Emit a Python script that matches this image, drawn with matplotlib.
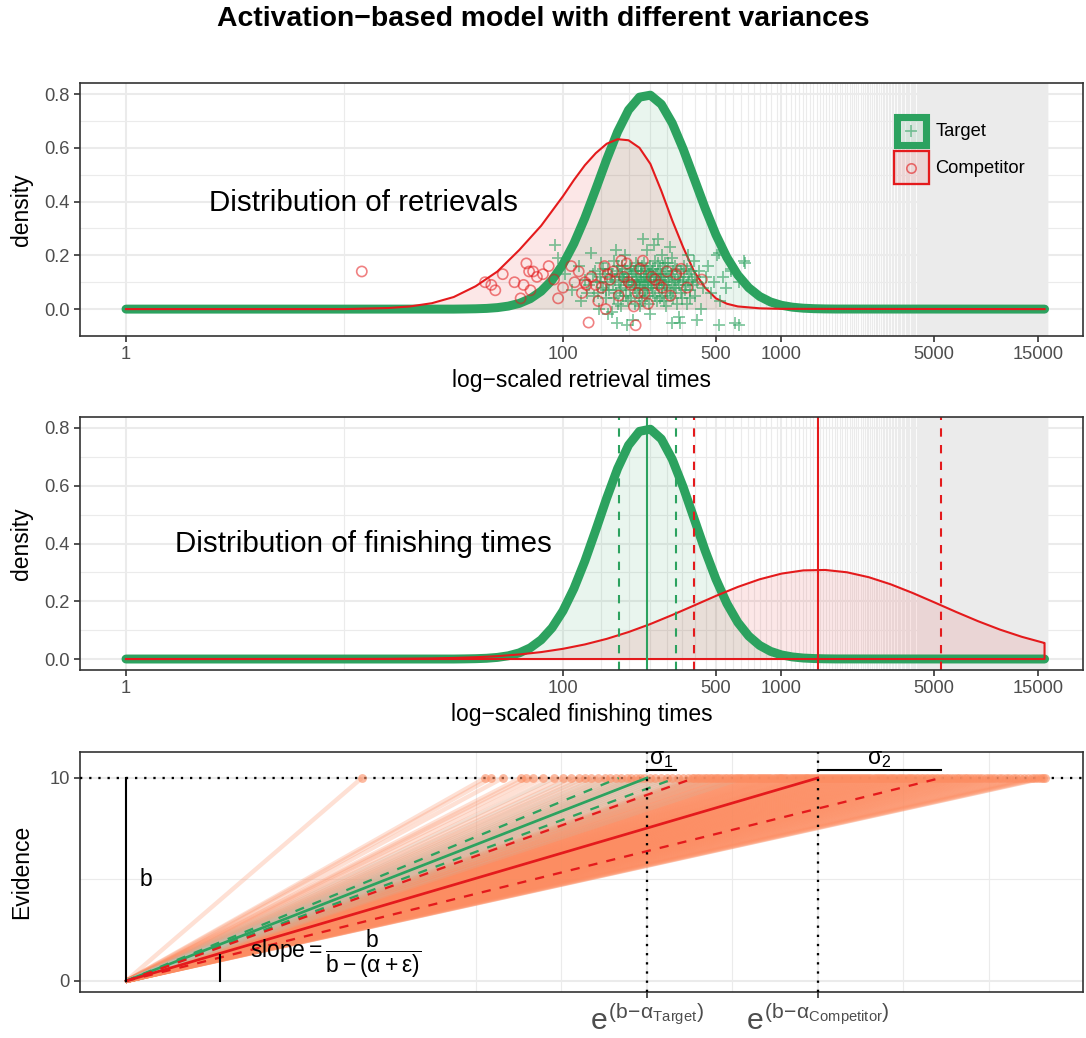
import numpy as np
import matplotlib
matplotlib.use("Agg")
import matplotlib.pyplot as plt
from matplotlib.patches import Rectangle
from matplotlib.lines import Line2D
from matplotlib.legend_handler import HandlerTuple, HandlerPatch, HandlerLine2D
from matplotlib.collections import LineCollection
from matplotlib.ticker import FixedLocator, NullFormatter
from matplotlib.colors import to_rgba

# Schriften wie im ggplot-Original (Helvetica -> Liberation Sans)
plt.rcParams['font.family'] = ['Liberation Sans', 'DejaVu Sans']
plt.rcParams['mathtext.fontset'] = 'custom'
plt.rcParams['mathtext.rm'] = 'Liberation Sans'
plt.rcParams['mathtext.it'] = 'Liberation Sans'
plt.rcParams['mathtext.bf'] = 'Liberation Sans:bold'
plt.rcParams['mathtext.sf'] = 'Liberation Sans'

GREEN = '#2CA25F'
RED = '#E41A1C'
SALMON = '#FC8D62'
GRID = '#EBEBEB'

# Daten
# Achsenbeschriftung (Zeiten in ms)
x_breaks = [1, 100, 500, 1000, 5000, 15000]
x_labels = ['1', '100', '500', '1000', '5000', '15000']

# Dichte Target (x in log10 ms)
target_log10 = [0.0, 1.5, 1.55, 1.6, 1.65, 1.7, 1.75, 1.8, 1.85, 1.9, 1.95, 2.0, 2.05, 2.1,
                2.15, 2.2, 2.25, 2.3, 2.35, 2.4, 2.45, 2.5, 2.55, 2.6, 2.65, 2.7, 2.75, 2.8,
                2.85, 2.9, 2.95, 3.0, 3.05, 3.1, 3.15, 3.2, 3.25, 4.204]
target_dens = [0.0, 0.0, 0.0005, 0.0012, 0.0026, 0.0056, 0.0112, 0.0213, 0.0386, 0.0664,
               0.1080, 0.1667, 0.2440, 0.3388, 0.4462, 0.5570, 0.6595, 0.7404, 0.7883, 0.7958,
               0.7619, 0.6917, 0.5956, 0.4863, 0.3766, 0.2765, 0.1925, 0.1270, 0.0796, 0.0472,
               0.0266, 0.0142, 0.0072, 0.0034, 0.0016, 0.0007, 0.0003, 0.0]

# Dichte Competitor, Abrufzeiten (oberes Panel)
comp_ret_log10 = [0.0, 1.0, 1.2, 1.3, 1.4, 1.5, 1.6, 1.7, 1.8, 1.9, 2.0, 2.05, 2.1, 2.15, 2.2,
                  2.25, 2.3, 2.35, 2.4, 2.45, 2.5, 2.55, 2.6, 2.65, 2.7, 2.75, 2.8, 2.9, 3.0, 4.204]
comp_ret_dens = [0.0, 0.0, 0.004, 0.01, 0.022, 0.045, 0.085, 0.14, 0.22, 0.31, 0.42, 0.48,
                 0.535, 0.58, 0.615, 0.632, 0.628, 0.60, 0.54, 0.44, 0.33, 0.23, 0.14, 0.08,
                 0.04, 0.02, 0.01, 0.003, 0.001, 0.0]

# Dichte Competitor, Endzeiten (mittleres Panel)
comp_fin_log10 = [0.0, 1.0, 1.2, 1.4, 1.5, 1.6, 1.7, 1.8, 1.9, 2.0, 2.1, 2.2, 2.3, 2.4, 2.5,
                  2.6, 2.7, 2.8, 2.9, 3.0, 3.1, 3.2, 3.3, 3.4, 3.5, 3.6, 3.7, 3.8, 3.9, 4.0,
                  4.1, 4.2, 4.204]
comp_fin_dens = [0.0, 0.0002, 0.0006, 0.0021, 0.0037, 0.0062, 0.0100, 0.0158, 0.0240, 0.0354,
                 0.0505, 0.0698, 0.0934, 0.1212, 0.1524, 0.1854, 0.2186, 0.2496, 0.2760,
                 0.2957, 0.3069, 0.3084, 0.3003, 0.2832, 0.2587, 0.2288, 0.1961, 0.1628,
                 0.1309, 0.1019, 0.0769, 0.0562, 0.0555]

# Mittelwerte und Streuungsgrenzen (ms)
target_mean = 242
target_lo, target_hi = 180, 329
comp_mean = 1466
comp_lo, comp_hi = 399, 5350

# Einzelne Abrufe (ms, vertikaler Jitter)
target_rt = [92, 95, 102, 110, 118, 121, 126, 131, 135, 138, 140, 143, 146, 148, 150, 152, 155,
             157, 159, 160, 161, 163, 165, 167, 169, 171, 173, 175, 175, 176, 177, 179, 181, 183,
             185, 187, 189, 191, 193, 195, 196, 197, 199, 201, 203, 205, 207, 209, 211, 213, 215,
             217, 219, 221, 223, 225, 227, 229, 231, 232, 233, 235, 237, 239, 241, 243, 245, 247,
             249, 251, 253, 255, 258, 261, 262, 264, 267, 270, 272, 273, 276, 279, 282, 285, 285,
             288, 291, 294, 297, 300, 304, 308, 310, 312, 316, 316, 320, 324, 328, 333, 338, 343,
             345, 348, 353, 358, 364, 370, 372, 376, 382, 389, 396, 403, 410, 411, 420, 429, 439,
             450, 462, 475, 490, 505, 517, 520, 522, 540, 560, 585, 590, 610, 640, 640, 673, 680,
             182, 186, 192, 194, 198, 202, 204, 208, 212, 214, 216, 218, 220, 222, 224, 226, 228,
             230, 234, 236, 238, 240, 242, 244, 246, 248, 250, 252, 256, 259, 263, 266, 269, 271,
             274, 277, 280, 283, 287, 290, 293, 296, 299, 302, 306, 311, 315, 318, 322, 327, 331,
             336, 341, 347, 352, 357, 362, 368, 374, 380, 387, 394, 401, 168, 172, 178, 184, 188,
             158, 153, 145, 149, 137, 129]
target_jit = [0.24, 0.19, 0.13, 0.07, 0.16, 0.03, 0.11, 0.09, 0.21, 0.05, 0.14, 0.10, 0.00, 0.12,
              0.17, 0.08, 0.13, 0.04, 0.10, -0.02, 0.15, 0.07, 0.12, -0.01, 0.09, 0.18, 0.11,
              0.06, 0.22, -0.05, 0.14, 0.02, 0.10, 0.13, 0.08, 0.16, 0.05, 0.11, 0.20, 0.09,
              -0.06, 0.13, 0.03, 0.12, 0.07, 0.15, 0.10, -0.04, 0.14, 0.08, 0.11, 0.17, 0.06,
              0.12, 0.09, 0.01, 0.13, 0.10, 0.16, 0.26, 0.07, 0.12, 0.04, 0.15, 0.10, 0.22, 0.08,
              0.13, 0.11, -0.02, 0.09, 0.14, 0.06, 0.12, 0.24, 0.18, 0.10, 0.03, 0.26, 0.13, 0.08,
              0.15, 0.11, 0.05, 0.20, 0.12, 0.09, 0.17, 0.01, 0.14, 0.10, 0.07, 0.23, 0.13, 0.19,
              -0.05, 0.04, 0.11, 0.08, 0.15, -0.03, 0.12, -0.05, 0.06, 0.10, 0.16, 0.09, 0.02,
              0.20, 0.13, 0.07, 0.11, 0.18, 0.05, -0.04, 0.10, 0.14, 0.00, 0.08, 0.12, 0.16, 0.06,
              0.10, 0.20, -0.06, 0.21, 0.03, 0.12, 0.08, 0.15, 0.14, -0.05, 0.10, -0.06, 0.18,
              0.17,
              0.07, 0.12, 0.15, 0.05, 0.10, 0.16, 0.04, 0.13, 0.09, 0.02, 0.14, 0.10, 0.16, 0.05,
              0.11, 0.08, 0.14, 0.03, 0.10, 0.17, 0.07, 0.12, 0.05, 0.14, 0.10, 0.02, 0.16, 0.12,
              0.08, 0.15, 0.05, 0.13, 0.09, 0.17, 0.11, 0.04, 0.13, 0.08, 0.16, 0.03, 0.12, 0.09,
              0.06, 0.17, 0.12, 0.05, 0.10, 0.14, 0.08, 0.16, 0.02, 0.11, 0.09, 0.14, 0.04, 0.12,
              0.07, 0.15, 0.10, 0.04, 0.14, 0.09, 0.12, 0.13, 0.04, 0.16, 0.01, 0.12, 0.07, 0.15,
              0.06, 0.10, 0.13, 0.06]

comp_rt = [12, 44, 47, 49, 53, 60, 64, 66, 68, 70, 71, 73, 76, 81, 86, 91, 95, 100, 109, 113, 118,
           122, 126, 128, 131, 135, 141, 145, 150, 155, 157, 160, 164, 170, 180, 185, 190, 196,
           200, 205, 211, 215, 220, 225, 232, 236, 245, 255, 264, 275, 284, 299, 310, 330, 347,
           370, 432]
comp_jit = [0.14, 0.10, 0.09, 0.07, 0.13, 0.10, 0.04, 0.09, 0.17, 0.14, 0.07, 0.14, 0.12, 0.13,
            0.16, 0.11, 0.04, 0.08, 0.16, 0.10, 0.14, 0.06, 0.10, 0.09, -0.05, 0.12, 0.09, 0.03,
            0.08, 0.16, 0.00, 0.13, 0.11, 0.14, 0.05, 0.18, 0.12, 0.17, 0.10, 0.09, 0.01, -0.06,
            0.06, 0.15, 0.18, 0.06, 0.02, 0.12, 0.11, 0.09, 0.08, 0.14, 0.05, 0.13, 0.15, 0.08,
            0.11]

# Endzeiten der Akkumulatoren (ms) fuer das untere Panel
comp_finish = [12, 44, 47, 53, 64, 68, 73, 81, 91, 100, 109, 118, 126, 135, 145, 155, 164, 175,
               185, 196, 205, 215, 225, 236, 250, 264, 280, 299, 315, 335, 355, 375, 390, 399,
               410, 420, 432, 445, 457, 470, 482, 495, 508, 520, 535, 550, 565, 580, 595, 610,
               625, 640, 655, 670, 685, 700, 718, 735, 752, 770, 788, 805, 822, 840, 860, 880,
               900, 920, 940, 960, 980, 1000, 1020, 1040, 1065, 1090, 1115, 1140, 1165, 1190,
               1215, 1240, 1265, 1290, 1315, 1340, 1370, 1400, 1430, 1460, 1490, 1520, 1550,
               1580, 1615, 1650, 1685, 1720, 1755, 1790, 1830, 1870, 1910, 1950, 1990, 2030,
               2075, 2120, 2165, 2210, 2260, 2310, 2360, 2410, 2465, 2520, 2580, 2640, 2700,
               2760, 2825, 2890, 2955, 3020, 3095, 3170, 3245, 3320, 3400, 3480, 3565, 3650,
               3740, 3830, 3925, 4020, 4125, 4230, 4340, 4450, 4575, 4700, 4825, 4950, 5075,
               5200, 5350, 5500, 5650, 5800, 5975, 6150, 6325, 6500, 6700, 6900, 7100, 7300,
               7550, 7800, 8050, 8300, 8600, 8900, 9200, 9500, 9850, 10200, 10600, 11000, 11450,
               11900, 12400, 12900, 13450, 14000, 14500, 15000, 15400, 15800, 16000]
target_finish = [92, 110, 126, 140, 150, 160, 168, 176, 183, 190, 197, 204, 211, 218, 225, 232,
                 240, 248, 256, 265, 274, 284, 295, 307, 320, 335, 352, 372, 396, 425, 465, 520,
                 600, 680]
threshold = 10

# Layout
W, H = 1086, 1038
fig = plt.figure(figsize=(W / 150, H / 150), dpi=150)


def box(left, top, right, bottom):
    return [left / W, 1 - bottom / H, (right - left) / W, (bottom - top) / H]


ax1 = fig.add_axes(box(80, 83, 1083, 336))
ax2 = fig.add_axes(box(80, 417, 1083, 670))
ax3 = fig.add_axes(box(80, 752, 1083, 992))
xlim = (10 ** -0.2105, 10 ** 4.38)


def style(ax):
    for s in ax.spines.values():
        s.set_color('#333333')
        s.set_linewidth(0.8)
    ax.tick_params(which='major', length=2.75, width=0.8, color='#333333',
                   labelcolor='#4D4D4D', labelsize=8.8, pad=2.2)
    ax.tick_params(which='minor', length=0)
    ax.grid(which='major', color=GRID, lw=1.0)
    ax.grid(which='minor', color=GRID, lw=0.55)
    ax.set_axisbelow(True)


# Gitterlinien wie im Original: 10 und alle 50 ms ab 100
minor_x = [10] + list(range(100, 16550, 50))

for ax in (ax1, ax2):
    ax.set_xscale('log')
    ax.set_xticks(x_breaks, x_labels)
    ax.xaxis.set_minor_locator(FixedLocator(minor_x))
    ax.xaxis.set_minor_formatter(NullFormatter())
    ax.set_yticks([0, 0.2, 0.4, 0.6, 0.8], ['0.0', '0.2', '0.4', '0.6', '0.8'])
    ax.yaxis.set_minor_locator(FixedLocator([0.1, 0.3, 0.5, 0.7]))
    style(ax)
    ax.set_ylabel('density', fontsize=11)
    ax.yaxis.set_label_coords(-0.047, 0.5)

t_x = np.power(10.0, target_log10)

# Panel 1: Abrufe
ax1.fill_between(t_x, target_dens, color=GREEN, alpha=0.1, lw=0)
ax1.plot(t_x, target_dens, color=GREEN, lw=4.3, solid_capstyle='round', solid_joinstyle='round')
r1_x = np.power(10.0, comp_ret_log10)
ax1.fill_between(r1_x, comp_ret_dens, color=RED, alpha=0.1, lw=0)
ax1.plot(r1_x, comp_ret_dens, color=RED, lw=1.0)
ax1.scatter(target_rt, target_jit, marker='+', s=36, c=GREEN, alpha=0.6, lw=0.85, zorder=4)
ax1.scatter(comp_rt, comp_jit, marker='o', s=24, facecolors='none', edgecolors=RED,
            alpha=0.55, lw=0.8, zorder=5)
ax1.text(10 ** 1.085, 0.394, 'Distribution of retrievals', fontsize=14.2, ha='center', va='center')
ax1.set_xlim(xlim)
ax1.set_ylim(-0.1, 0.841)
ax1.set_xlabel('log\u2212scaled retrieval times', fontsize=11)
ax1.xaxis.set_label_coords(0.5, -0.13)


# Legende: Rahmen nach innen versetzt, damit beide Schluessel gleich gross sind
def inset_box(legend, orig_handle, xdescent, ydescent, width, height, fontsize):
    p = orig_handle.get_linewidth() / 2
    return Rectangle((-xdescent + p, -ydescent + p), width - 2 * p, height - 2 * p)


# Symbol mittig im Schluessel
class CenteredMarker(HandlerLine2D):
    def create_artists(self, legend, orig_handle, xdescent, ydescent, width, height, fontsize, trans):
        artists = super().create_artists(legend, orig_handle, xdescent, ydescent, width, height,
                                         fontsize, trans)
        for a in artists:
            a.set_ydata(np.full(len(a.get_ydata()), height / 2 - ydescent))
        return artists


box_t = Rectangle((0, 0), 1, 1, facecolor=to_rgba(GREEN, 0.1), edgecolor=GREEN, lw=3.4)
box_c = Rectangle((0, 0), 1, 1, facecolor=to_rgba(RED, 0.1), edgecolor=RED, lw=1.1)
mark_t = Line2D([], [], ls='none', marker='+', color=to_rgba(GREEN, 0.6), markersize=6, mew=0.8)
mark_c = Line2D([], [], ls='none', marker='o', mfc='none', mec=to_rgba(RED, 0.6), markersize=4.5,
                mew=0.8)
ax1.legend([(box_t, mark_t), (box_c, mark_c)], ['Target', 'Competitor'],
           handler_map={tuple: HandlerTuple(ndivide=1, pad=0),
                        box_t: HandlerPatch(patch_func=inset_box),
                        box_c: HandlerPatch(patch_func=inset_box),
                        mark_t: CenteredMarker(numpoints=1),
                        mark_c: CenteredMarker(numpoints=1)},
           loc='upper left', bbox_to_anchor=(893 / W, 1 - 113 / H), bbox_transform=fig.transFigure,
           frameon=False, fontsize=8.8, handlelength=2.0, handleheight=2.6, labelspacing=0.09,
           handletextpad=0.3, borderpad=0, borderaxespad=0)

# Panel 2: Endzeiten
ax2.fill_between(t_x, target_dens, color=GREEN, alpha=0.1, lw=0)
ax2.plot(t_x, target_dens, color=GREEN, lw=4.3, solid_capstyle='round', solid_joinstyle='round')
r2_x = np.power(10.0, comp_fin_log10)
ax2.fill_between(r2_x, comp_fin_dens, color=RED, alpha=0.1, lw=0)
ax2.plot(np.r_[r2_x, r2_x[-1], r2_x[0]], np.r_[comp_fin_dens, 0, 0], color=RED, lw=1.0)
dash = (0, (4, 4))
ax2.axvline(target_mean, color=GREEN, lw=1.0)
ax2.axvline(target_lo, color=GREEN, lw=1.0, ls=dash)
ax2.axvline(target_hi, color=GREEN, lw=1.0, ls=dash)
ax2.axvline(comp_mean, color=RED, lw=1.0)
ax2.axvline(comp_lo, color=RED, lw=1.0, ls=dash)
ax2.axvline(comp_hi, color=RED, lw=1.0, ls=dash)
ax2.text(10 ** 1.085, 0.40, 'Distribution of finishing times', fontsize=14.2, ha='center', va='center')
ax2.set_xlim(xlim)
ax2.set_ylim(-0.038, 0.838)
ax2.set_xlabel('log\u2212scaled finishing times', fontsize=11)
ax2.xaxis.set_label_coords(0.5, -0.13)

# Panel 3: Akkumulatoren
ax3.set_xscale('log')
step = np.log10(comp_mean / target_mean)
minor3 = [target_mean * 10 ** (-step), target_mean * 10 ** (-step / 2),
          target_mean * 10 ** (step / 2), comp_mean * 10 ** (step / 2), comp_mean * 10 ** step]
ax3.set_xticks([target_mean, comp_mean],
               [r'$e^{(b\!-\!\alpha_{Target})}$', r'$e^{(b\!-\!\alpha_{Competitor})}$'])
ax3.xaxis.set_minor_locator(FixedLocator(minor3))
ax3.xaxis.set_minor_formatter(NullFormatter())
ax3.set_yticks([0, 10], ['0', '10'])
ax3.yaxis.set_minor_locator(FixedLocator([5]))
style(ax3)
ax3.tick_params(axis='x', which='major', labelsize=14.5, pad=3.5)
ax3.set_ylabel('Evidence', fontsize=11)
ax3.yaxis.set_label_coords(-0.047, 0.5)

segs = [[(1, 0), (t, threshold)] for t in comp_finish]
ax3.add_collection(LineCollection(segs, colors=SALMON, alpha=0.27, lw=2.1, zorder=2))
segs_t = [[(1, 0), (t, threshold)] for t in target_finish]
ax3.add_collection(LineCollection(segs_t, colors='#B8C9BC', alpha=0.15, lw=1.5, zorder=2))

dot = (0, (1, 3))
ax3.axhline(threshold, color='black', lw=1.1, ls=dot, zorder=3)
ax3.scatter(comp_finish, [threshold] * len(comp_finish), s=18, color=SALMON, alpha=0.6, lw=0, zorder=4)

ax3.plot([1, target_mean], [0, threshold], color=GREEN, lw=1.3, zorder=5)
ax3.plot([1, target_lo], [0, threshold], color=GREEN, lw=1.1, ls=dash, zorder=5)
ax3.plot([1, target_hi], [0, threshold], color=GREEN, lw=1.1, ls=dash, zorder=5)
ax3.plot([1, comp_mean], [0, threshold], color=RED, lw=1.3, zorder=5)
ax3.plot([1, comp_lo], [0, threshold], color=RED, lw=1.1, ls=dash, zorder=5)
ax3.plot([1, comp_hi], [0, threshold], color=RED, lw=1.1, ls=dash, zorder=5)
ax3.axvline(target_mean, color='black', lw=1.1, ls=dot, zorder=6)
ax3.axvline(comp_mean, color='black', lw=1.1, ls=dot, zorder=6)

# Beschriftungen im unteren Panel
ax3.plot([1, 1], [0, threshold], color='black', lw=1.0, zorder=6)
ax3.text(1.15, 5, 'b', fontsize=11, ha='left', va='center')
ax3.plot([2.7, 2.7], [0, 1.28], color='black', lw=1.0, zorder=6)
ax3.text(10 ** 0.957, 1.33, r'$\mathrm{slope} = \dfrac{b}{b - (\alpha + \varepsilon)}$',
         fontsize=11, ha='center', va='center', zorder=7)
ax3.plot([target_mean, target_hi], [10.39, 10.39], color='black', lw=1.0)
ax3.text(np.sqrt(target_mean * target_hi), 10.39, r'$\sigma_1$', fontsize=11, ha='center', va='bottom')
ax3.plot([comp_mean, comp_hi], [10.39, 10.39], color='black', lw=1.0)
ax3.text(np.sqrt(comp_mean * comp_hi), 10.39, r'$\sigma_2$', fontsize=11, ha='center', va='bottom')
ax3.set_xlim(xlim)
ax3.set_ylim(-0.542, 11.28)

fig.text(0.5, 1 - 19 / H, 'Activation\u2212based model with different variances', fontsize=13.6,
         fontweight='bold', ha='center', va='center')

fig.savefig('out.png', dpi=150)
